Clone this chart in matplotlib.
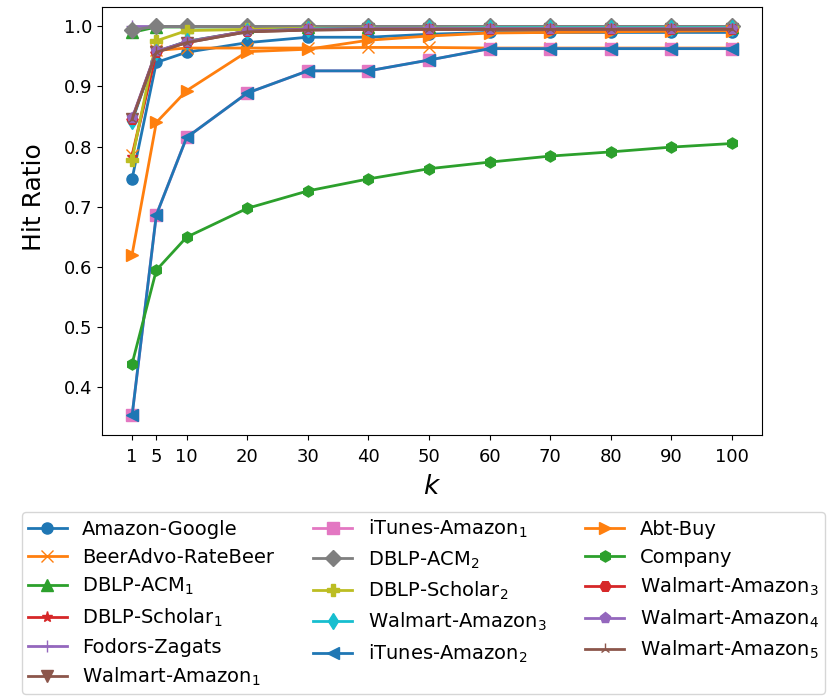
import matplotlib
matplotlib.use('Agg')
import matplotlib.pyplot as plt

k = [1, 5, 10, 20, 30, 40, 50, 60, 70, 80, 90, 100]

amazon_google = [0.746, 0.940, 0.957, 0.973, 0.982, 0.982, 0.987, 0.990, 0.990, 0.990, 0.990, 0.990]
beeradvo_ratebeer = [0.786, 0.960, 0.964, 0.964, 0.964, 0.965, 0.965, 0.964, 0.964, 0.964, 0.964, 0.964]
dblp_acm1 = [0.990, 0.999, 0.999, 0.999, 0.999, 0.999, 0.999, 0.999, 0.999, 0.999, 0.999, 0.999]
dblp_scholar1 = [0.783, 0.957, 0.975, 0.992, 0.995, 0.996, 0.996, 0.997, 0.997, 0.997, 0.997, 0.997]
fodors_zagats = [1.0, 1.0, 1.0, 1.0, 1.0, 1.0, 1.0, 1.0, 1.0, 1.0, 1.0, 1.0]
walmart_amazon1 = [0.845, 0.957, 0.973, 0.991, 0.994, 0.995, 0.995, 0.995, 0.995, 0.995, 0.995, 0.995]
itunes_amazon1 = [0.352, 0.686, 0.815, 0.889, 0.926, 0.926, 0.944, 0.963, 0.963, 0.963, 0.963, 0.963]
dblp_acm2 = [0.994, 1.0, 1.0, 1.0, 1.0, 1.0, 1.0, 1.0, 1.0, 1.0, 1.0, 1.0]
dblp_scholar2 = [0.778, 0.976, 0.993, 0.995, 0.997, 0.997, 0.997, 0.998, 0.998, 0.998, 0.998, 0.998]
walmart_amazon3b = [0.842, 0.958, 0.975, 0.992, 0.996, 0.997, 0.997, 0.998, 0.998, 0.998, 0.998, 0.998]
itunes_amazon2 = [0.352, 0.686, 0.815, 0.889, 0.926, 0.926, 0.944, 0.963, 0.963, 0.963, 0.963, 0.963]
abt_buy = [0.620, 0.840, 0.893, 0.958, 0.962, 0.977, 0.984, 0.989, 0.990, 0.991, 0.992, 0.993]
company = [0.438, 0.594, 0.649, 0.697, 0.726, 0.746, 0.763, 0.774, 0.784, 0.791, 0.799, 0.805]
walmart_amazon3 = [0.845, 0.958, 0.974, 0.992, 0.995, 0.996, 0.996, 0.996, 0.996, 0.996, 0.996, 0.996]
walmart_amazon4 = [0.847, 0.959, 0.974, 0.992, 0.995, 0.996, 0.996, 0.996, 0.996, 0.996, 0.996, 0.996]
walmart_amazon5 = [0.845, 0.957, 0.973, 0.991, 0.994, 0.995, 0.995, 0.995, 0.995, 0.995, 0.995, 0.995]

series = [
    ('Amazon-Google', amazon_google, 'o'),
    ('BeerAdvo-RateBeer', beeradvo_ratebeer, 'x'),
    ('DBLP-ACM$_1$', dblp_acm1, '^'),
    ('DBLP-Scholar$_1$', dblp_scholar1, '*'),
    ('Fodors-Zagats', fodors_zagats, '+'),
    ('Walmart-Amazon$_1$', walmart_amazon1, 'v'),
    ('iTunes-Amazon$_1$', itunes_amazon1, 's'),
    ('DBLP-ACM$_2$', dblp_acm2, 'D'),
    ('DBLP-Scholar$_2$', dblp_scholar2, 'P'),
    ('Walmart-Amazon$_3$', walmart_amazon3b, 'd'),
    ('iTunes-Amazon$_2$', itunes_amazon2, '<'),
    ('Abt-Buy', abt_buy, '>'),
    ('Company', company, 'h'),
    ('Walmart-Amazon$_3$', walmart_amazon3, 'H'),
    ('Walmart-Amazon$_4$', walmart_amazon4, 'p'),
    ('Walmart-Amazon$_5$', walmart_amazon5, '2'),
]

fig = plt.figure(figsize=(8.3, 6.97), dpi=100)
ax = fig.add_axes([0.123, 0.376, 0.795, 0.614])

for name, vals, m in series:
    ax.plot(k, vals, marker=m, markersize=8, linewidth=2, label=name)

ax.set_xticks(k)
ax.tick_params(labelsize=13)
ax.tick_params(axis='x', pad=6)
ax.set_xlabel('$k$', fontsize=19, labelpad=6)
ax.set_ylabel('Hit Ratio', fontsize=18)
# label sits a bit above the axes centre in the original
ax.yaxis.set_label_coords(-0.085, 0.555)

fig.legend(loc='upper left', bbox_to_anchor=(22 / 830, 1 - 512 / 697), ncol=3, fontsize=14,
           borderaxespad=0, labelspacing=0.47, borderpad=0.3)

fig.savefig('out.png', dpi=100)
